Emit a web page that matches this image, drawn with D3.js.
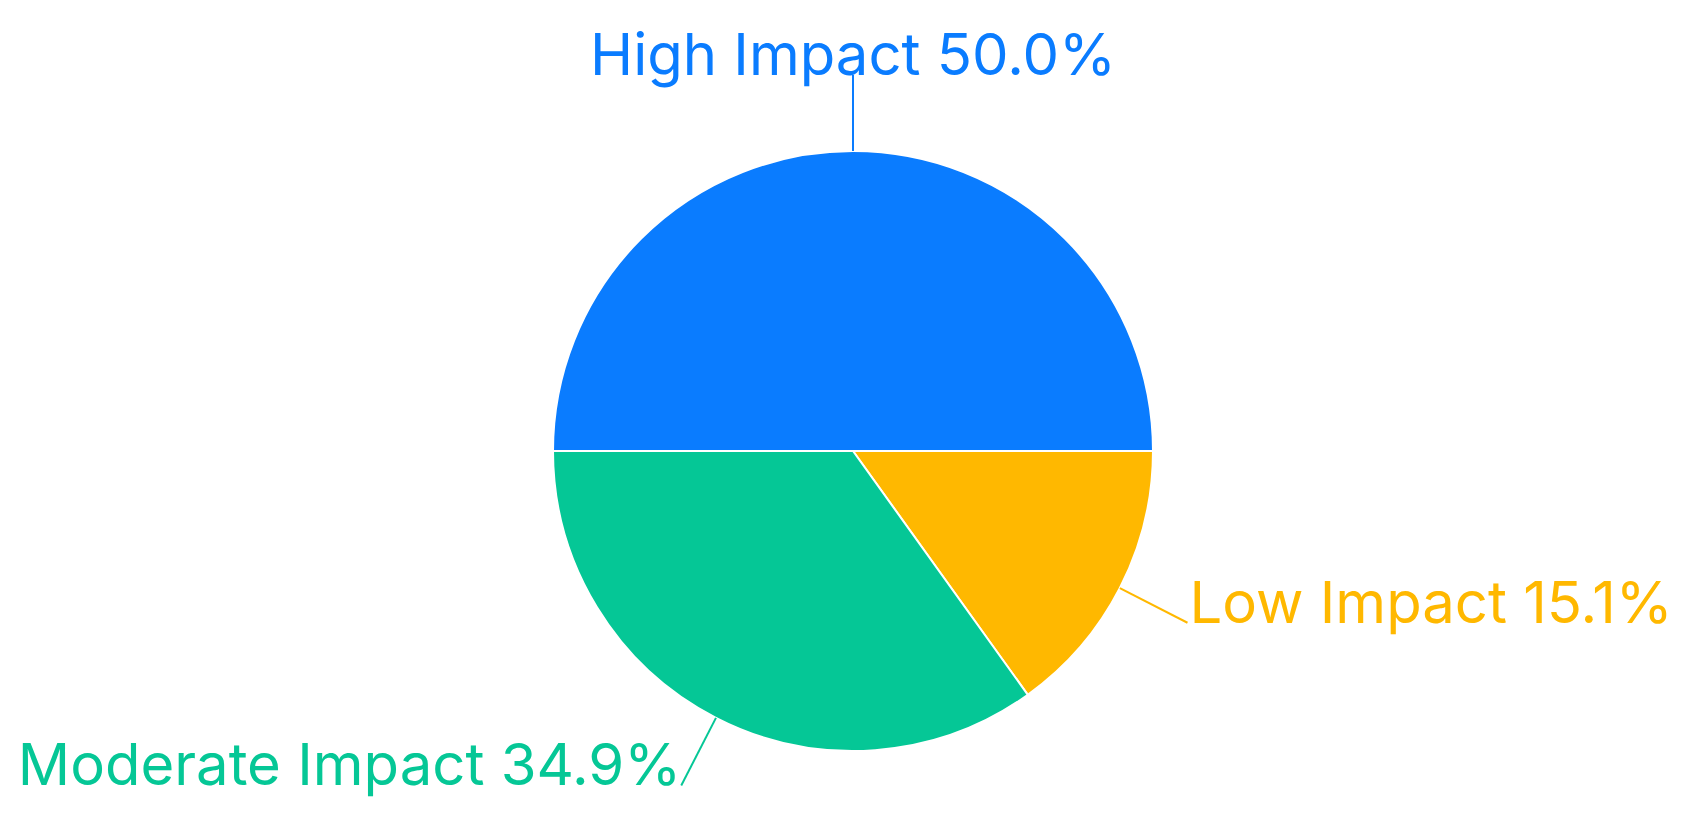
<!DOCTYPE html>
<html>
<head>
<meta charset="utf-8">
<style>
  html, body { margin: 0; padding: 0; background: #fff; }
  svg { display: block; }
</style>
</head>
<body>
<svg width="1691" height="824"></svg>
<script src="https://d3js.org/d3.v7.min.js"></script>
<script>

var categories = ["High Impact", "Low Impact", "Moderate Impact"];
var values = [50.0, 15.1, 34.9];
var colors = ["#0A7CFF", "#FFB800", "#05C796"];

var svg = d3.select("svg"),
    width = +svg.attr("width"),
    height = +svg.attr("height");

var radius = 300,
    labelRadius = 376;

var data = categories.map(function(c, i) { return {name: c, value: values[i], color: colors[i]}; });

var pie = d3.pie()
    .sort(null)
    .value(function(d) { return d.value; })
    .startAngle(-Math.PI / 2)
    .endAngle(Math.PI * 1.5);

var arc = d3.arc().innerRadius(0).outerRadius(radius);

var g = svg.append("g")
    .attr("transform", "translate(853,451)");

var arcs = pie(data);

g.selectAll("path.slice")
  .data(arcs)
  .enter().append("path")
    .attr("class", "slice")
    .attr("d", arc)
    .attr("fill", function(d) { return d.data.color; })
    .attr("stroke", "#fff")
    .attr("stroke-width", 2);

function mid(d) { return (d.startAngle + d.endAngle) / 2; }
function pt(a, r) { return [Math.sin(a) * r, -Math.cos(a) * r]; }

g.selectAll("line.lead")
  .data(arcs)
  .enter().append("line")
    .attr("class", "lead")
    .attr("x1", function(d) { return pt(mid(d), radius)[0]; })
    .attr("y1", function(d) { return pt(mid(d), radius)[1]; })
    .attr("x2", function(d) { return pt(mid(d), labelRadius)[0]; })
    .attr("y2", function(d) { return pt(mid(d), labelRadius)[1]; })
    .attr("stroke", function(d) { return d.data.color; })
    .attr("stroke-width", 2);

g.selectAll("text.label")
  .data(arcs)
  .enter().append("text")
    .attr("class", "label")
    .attr("x", function(d) {
      var s = Math.sin(mid(d));
      return pt(mid(d), labelRadius)[0] + (s > 0.1 ? 2 : 0);
    })
    .attr("y", function(d) { return pt(mid(d), labelRadius)[1]; })
    .attr("text-anchor", function(d) {
      var s = Math.sin(mid(d));
      return s > 0.1 ? "start" : (s < -0.1 ? "end" : "middle");
    })
    .attr("fill", function(d) { return d.data.color; })
    .attr("font-family", "Inter, 'Liberation Sans', sans-serif")
    .attr("font-size", 58)
    .text(function(d) { return d.data.name + " " + d.data.value.toFixed(1) + "%"; });

</script>
</body>
</html>
